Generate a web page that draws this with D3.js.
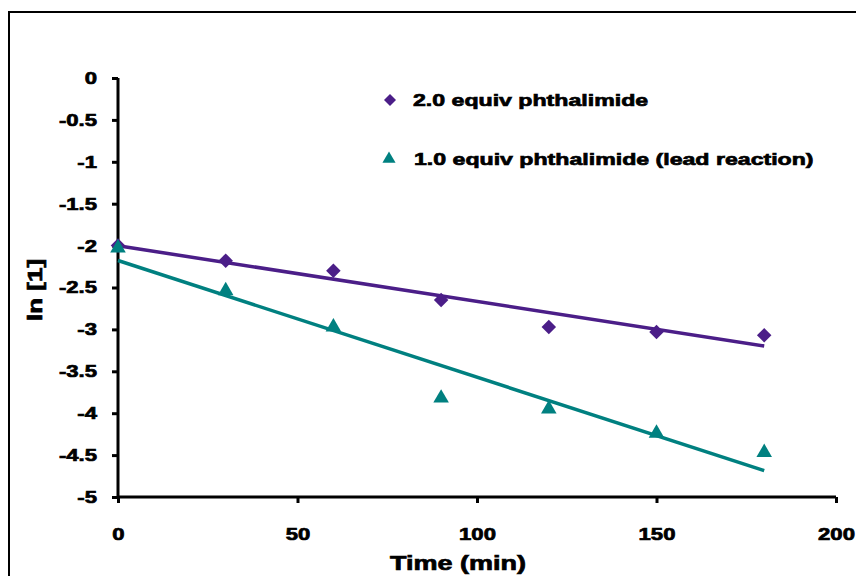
<!DOCTYPE html>
<html>
<head>
<meta charset="utf-8">
<script src="https://cdnjs.cloudflare.com/ajax/libs/d3/7.8.5/d3.min.js"></script>
<style>
  body { margin: 0; background: #fff; }
  svg text { font-family: "Liberation Sans", Arial, sans-serif; font-weight: bold; fill: #000; stroke: #000; stroke-width: 0.7px; }
</style>
</head>
<body>
<svg id="chart" width="856" height="576"></svg>
<script>
// data
var times = [0, 30, 60, 90, 120, 150, 180];
var equiv2 = [-2.0, -2.18, -2.3, -2.65, -2.97, -3.03, -3.07];
var equiv1 = [-2.03, -2.54, -2.97, -3.82, -3.95, -4.24, -4.47];
var xTicks = [0, 50, 100, 150, 200];
var yTicks = [0, -0.5, -1, -1.5, -2, -2.5, -3, -3.5, -4, -4.5, -5];
var seriesNames = ["2.0 equiv phthalimide", "1.0 equiv phthalimide (lead reaction)"];

var purple = "#4b1e88", teal = "#008080";

var svg = d3.select("#chart");

// the bold font in the picture is much wider, so stretch text sideways
function widen(sel, k) {
  sel.each(function() {
    var w = this.getComputedTextLength();
    d3.select(this).attr("textLength", w * k).attr("lengthAdjust", "spacingAndGlyphs");
  });
}

// outer frame
svg.append("rect")
    .attr("x", 9).attr("y", 12)
    .attr("width", 900).attr("height", 600)
    .attr("fill", "none")
    .attr("stroke", "#000")
    .attr("stroke-width", 2);

var x = d3.scaleLinear().domain([0, 200]).range([118, 836]);
var y = d3.scaleLinear().domain([-5, 0]).range([497, 78]);

// axes
var yAxis = svg.append("g")
    .attr("transform", "translate(118,0)")
    .call(d3.axisLeft(y).tickValues(yTicks).tickSize(6).tickPadding(15)
      .tickFormat(function(d) { return String(d); }));
var xAxis = svg.append("g")
    .attr("transform", "translate(0,497)")
    .call(d3.axisBottom(x).tickValues(xTicks).tickSize(6).tickPadding(25)
      .tickFormat(function(d) { return String(d); }));

yAxis.select(".domain").attr("stroke-width", 3).attr("d", "M0,78V497");
xAxis.select(".domain").attr("stroke-width", 3).attr("d", "M118,0H836");
[xAxis, yAxis].forEach(function(a) {
  a.selectAll(".tick line").attr("stroke-width", 3);
  a.selectAll("text").style("font-size", "17px").call(widen, 1.3);
});

// axis titles
svg.append("text")
    .attr("x", 458).attr("y", 570)
    .attr("text-anchor", "middle")
    .style("font-size", "20px")
    .text("Time (min)")
    .call(widen, 1.35);
svg.append("text")
    .attr("transform", "translate(42,290) rotate(-90)")
    .attr("text-anchor", "middle")
    .style("font-size", "20px")
    .text("ln [1]")
    .call(widen, 1.3);

// least squares trend lines
function fit(xs, ys) {
  var mx = d3.mean(xs), my = d3.mean(ys);
  var num = d3.sum(xs, function(v, i) { return (v - mx) * (ys[i] - my); });
  var den = d3.sum(xs, function(v) { return (v - mx) * (v - mx); });
  var b = num / den;
  return function(t) { return my + b * (t - mx); };
}
var line = d3.line().x(function(d) { return x(d[0]); }).y(function(d) { return y(d[1]); });

[[equiv2, purple], [equiv1, teal]].forEach(function(s) {
  var f = fit(times, s[0]);
  var ends = d3.extent(times);
  svg.append("path")
      .datum(ends.map(function(t) { return [t, f(t)]; }))
      .attr("d", line)
      .attr("fill", "none")
      .attr("stroke", s[1])
      .attr("stroke-width", 3.5);
});

// markers
var diamond = d3.symbol().type(d3.symbolSquare).size(105);
var triangle = d3.symbol().type(d3.symbolTriangle).size(105);

svg.append("g").selectAll("path")
    .data(times.map(function(t, i) { return [t, equiv2[i]]; }))
  .enter().append("path")
    .attr("d", diamond)
    .attr("transform", function(d) { return "translate(" + x(d[0]) + "," + y(d[1]) + ") rotate(45)"; })
    .attr("fill", purple);

svg.append("g").selectAll("path")
    .data(times.map(function(t, i) { return [t, equiv1[i]]; }))
  .enter().append("path")
    .attr("d", triangle)
    .attr("transform", function(d) { return "translate(" + x(d[0]) + "," + y(d[1]) + ")"; })
    .attr("fill", teal);

// legend
var legend = svg.append("g");
legend.append("path")
    .attr("d", d3.symbol().type(d3.symbolSquare).size(72))
    .attr("transform", "translate(390,100) rotate(45)")
    .attr("fill", purple);
legend.append("path")
    .attr("d", d3.symbol().type(d3.symbolTriangle).size(75))
    .attr("transform", "translate(389,159)")
    .attr("fill", teal);
legend.selectAll("text")
    .data(seriesNames)
  .enter().append("text")
    .attr("x", function(d, i) { return i === 0 ? 413 : 414; })
    .attr("y", function(d, i) { return 106 + i * 59; })
    .style("font-size", "17px")
    .text(function(d) { return d; })
    .call(widen, 1.36);
</script>
</body>
</html>
